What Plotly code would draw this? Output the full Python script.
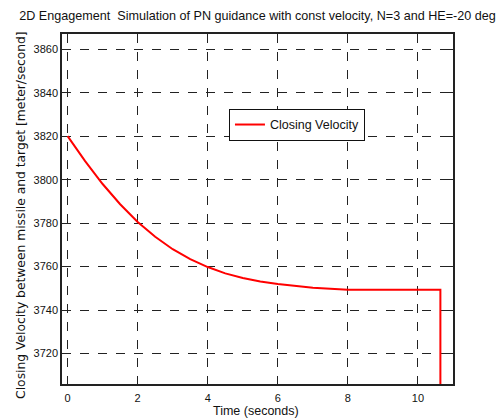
import plotly.graph_objects as go

time_s = [0, 0.5, 1, 1.5, 2, 2.5, 3, 3.5, 4, 4.5, 5, 5.5, 6, 6.5, 7, 7.5, 8, 9, 10, 10.64, 10.64]
closing_velocity = [3820, 3808.5, 3798, 3788.7, 3780.5, 3773.7, 3768, 3763.4, 3759.8, 3756.9, 3754.8,
                    3753.2, 3752.0, 3751.0, 3750.3, 3749.8, 3749.4, 3749.3, 3749.3, 3749.3, 3700]
x_ticks = [0, 2, 4, 6, 8, 10]
y_ticks = [3720, 3740, 3760, 3780, 3800, 3820, 3840, 3860]

title_text = "2D Engagement  Simulation of PN guidance with const velocity, N=3 and HE=-20 deg"
y_title = "Closing Velocity between missile and target [meter/second]"
x_title = "Time (seconds)"

fig = go.Figure()
fig.add_trace(go.Scatter(x=time_s, y=closing_velocity, mode="lines",
                         line=dict(color="#ff0000", width=2), name="Closing Velocity"))

axis_common = dict(
    showline=True, linecolor="#222", linewidth=1.5, mirror="allticks",
    ticks="inside", ticklen=5, tickcolor="#222", tickwidth=1,
    showgrid=True, gridcolor="#222", griddash="dash", gridwidth=1,
    zeroline=False, automargin=False,
    tickfont=dict(family="Liberation Sans, Arial", size=11, color="#111"),
)

fig.update_layout(
    width=504, height=419,
    margin=dict(l=62, r=51, t=34, b=35),
    paper_bgcolor="white", plot_bgcolor="white",
    font=dict(family="Liberation Sans, Arial", color="#111"),
    title=dict(text=title_text, x=0.5, xref="paper", xanchor="center", y=0.962, yanchor="middle",
               font=dict(size=12.6, family="Liberation Sans, Arial")),
    xaxis=dict(range=[-0.16, 11.0], tickvals=x_ticks, ticklabelstandoff=3),
    yaxis=dict(range=[3706, 3867], tickvals=y_ticks),
    legend=dict(x=0.427, y=0.786, xanchor="left", yanchor="top", bgcolor="white",
                bordercolor="#111", borderwidth=1, font=dict(size=12.5),
                itemwidth=30, tracegroupgap=0),
    showlegend=True,
    annotations=[
        dict(text=y_title, textangle=-90, xref="paper", yref="paper",
             x=-0.105, y=0.483, xanchor="center", yanchor="middle", showarrow=False,
             font=dict(size=12.3, family="DejaVu Sans, Liberation Sans", color="#111")),
        dict(text=x_title, xref="paper", yref="paper", x=0.495, y=-0.078,
             xanchor="center", yanchor="middle", showarrow=False,
             font=dict(size=12.5, family="Liberation Sans, Arial", color="#111")),
    ],
)
fig.update_xaxes(**axis_common)
fig.update_yaxes(**axis_common)

fig.write_html("out.html")
